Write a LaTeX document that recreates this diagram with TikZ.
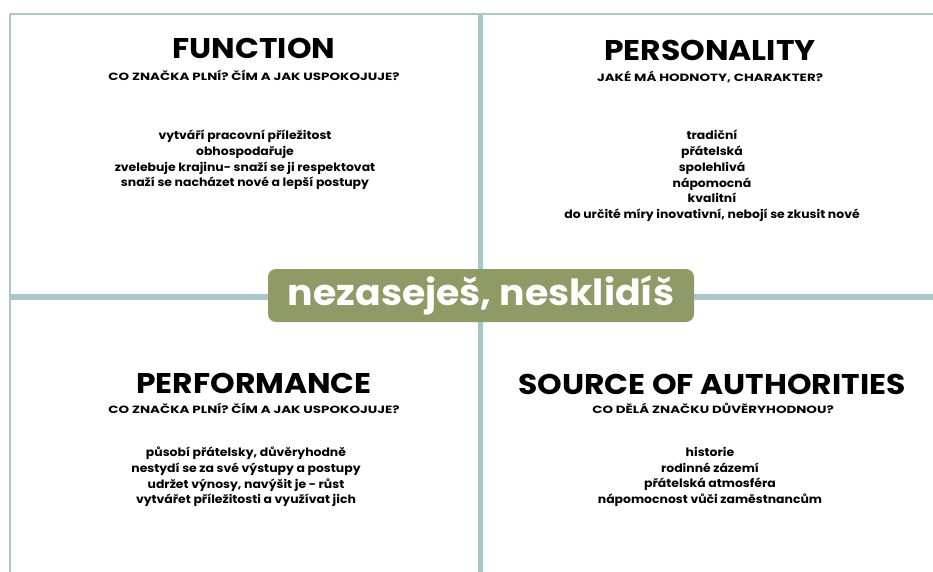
\documentclass[tikz,border=0pt]{standalone}
\usepackage{fontspec}
\setmainfont{Poppins}
\newfontfamily\headfont{Poppins}[FakeStretch=1.1]
\newfontfamily\askfont{Poppins}[FakeStretch=1.28]
\newfontfamily\listfont{Poppins}[FakeStretch=1.08]
\newfontfamily\mottofont{Poppins}[FakeStretch=1.05]
\definecolor{gridblue}{RGB}{169,198,200}
\definecolor{mottogreen}{RGB}{143,154,103}

\tikzset{
  gridline/.style={draw=gridblue},
  heading/.style={inner sep=0.75pt, font=\headfont\fontsize{28.5}{30}\selectfont\bfseries},
  question/.style={inner sep=0.75pt, font=\askfont\fontsize{10.5}{12}\selectfont\bfseries},
  answers/.style={inner sep=0.75pt, align=center, font=\listfont\fontsize{11.5}{15.7}\selectfont\bfseries},
  motto/.style={fill=mottogreen, rounded corners=8pt, minimum width=426pt, minimum height=53pt,
    inner sep=0pt, text=white, font=\mottofont\fontsize{36}{38}\selectfont\bfseries}
}

\begin{document}
\begin{tikzpicture}[x=1pt,y=1pt,yscale=-1,xscale=1]
\useasboundingbox (0,0) rectangle (933,572);

%Straight Lines [frame]
\draw [gridline, line width=2.5] (10,14) -- (933,14) ;
\draw [gridline, line width=2] (10,14) -- (10,572) ;
%Straight Lines [cross]
\draw [gridline, line width=5] (480.5,14) -- (480.5,572) ;
\draw [gridline, line width=6] (10,296.5) -- (933,296.5) ;

% Text Node
\node [heading] (function) at (254,48) {FUNCTION};
\node [question] (functionq) at (254,75) {CO ZNAČKA PLNÍ? ČÍM A JAK USPOKOJUJE?};
\node [answers] (functiona) at (245,160) {vytváří pracovní příležitost\\ obhospodařuje\\ zvelebuje krajinu- snaží se ji respektovat\\ snaží se nacházet nové a lepší postupy};

% Text Node
\node [heading] (personality) at (710,50) {PERSONALITY};
\node [question] (personalityq) at (710,77) {JAKÉ MÁ HODNOTY, CHARAKTER?};
\node [answers] (personalitya) at (712,176) {tradiční\\ přátelská\\ spolehlivá\\ nápomocná\\ kvalitní\\ do určité míry inovativní, nebojí se zkusit nové};

% Text Node
\node [heading] (performance) at (254,383) {PERFORMANCE};
\node [question] (performanceq) at (254,408) {CO ZNAČKA PLNÍ? ČÍM A JAK USPOKOJUJE?};
\node [answers] (performancea) at (246,477) {působí přátelsky, důvěryhodně\\ nestydí se za své výstupy a postupy\\ udržet výnosy, navýšit je - růst\\ vytvářet příležitosti a využívat jich};

% Text Node
\node [heading] (authorities) at (712,384) {SOURCE OF AUTHORITIES};
\node [question] (authoritiesq) at (713,408) {CO DĚLÁ ZNAČKU DŮVĚRYHODNOU?};
\node [answers] (authoritiesa) at (710,477) {historie\\ rodinné zázemí\\ přátelská atmosféra\\ nápomocnost vůči zaměstnancům};

% Motto
\node [motto] (motto) at (481,295.5) {nezaseješ, nesklidíš};

\end{tikzpicture}
\end{document}
